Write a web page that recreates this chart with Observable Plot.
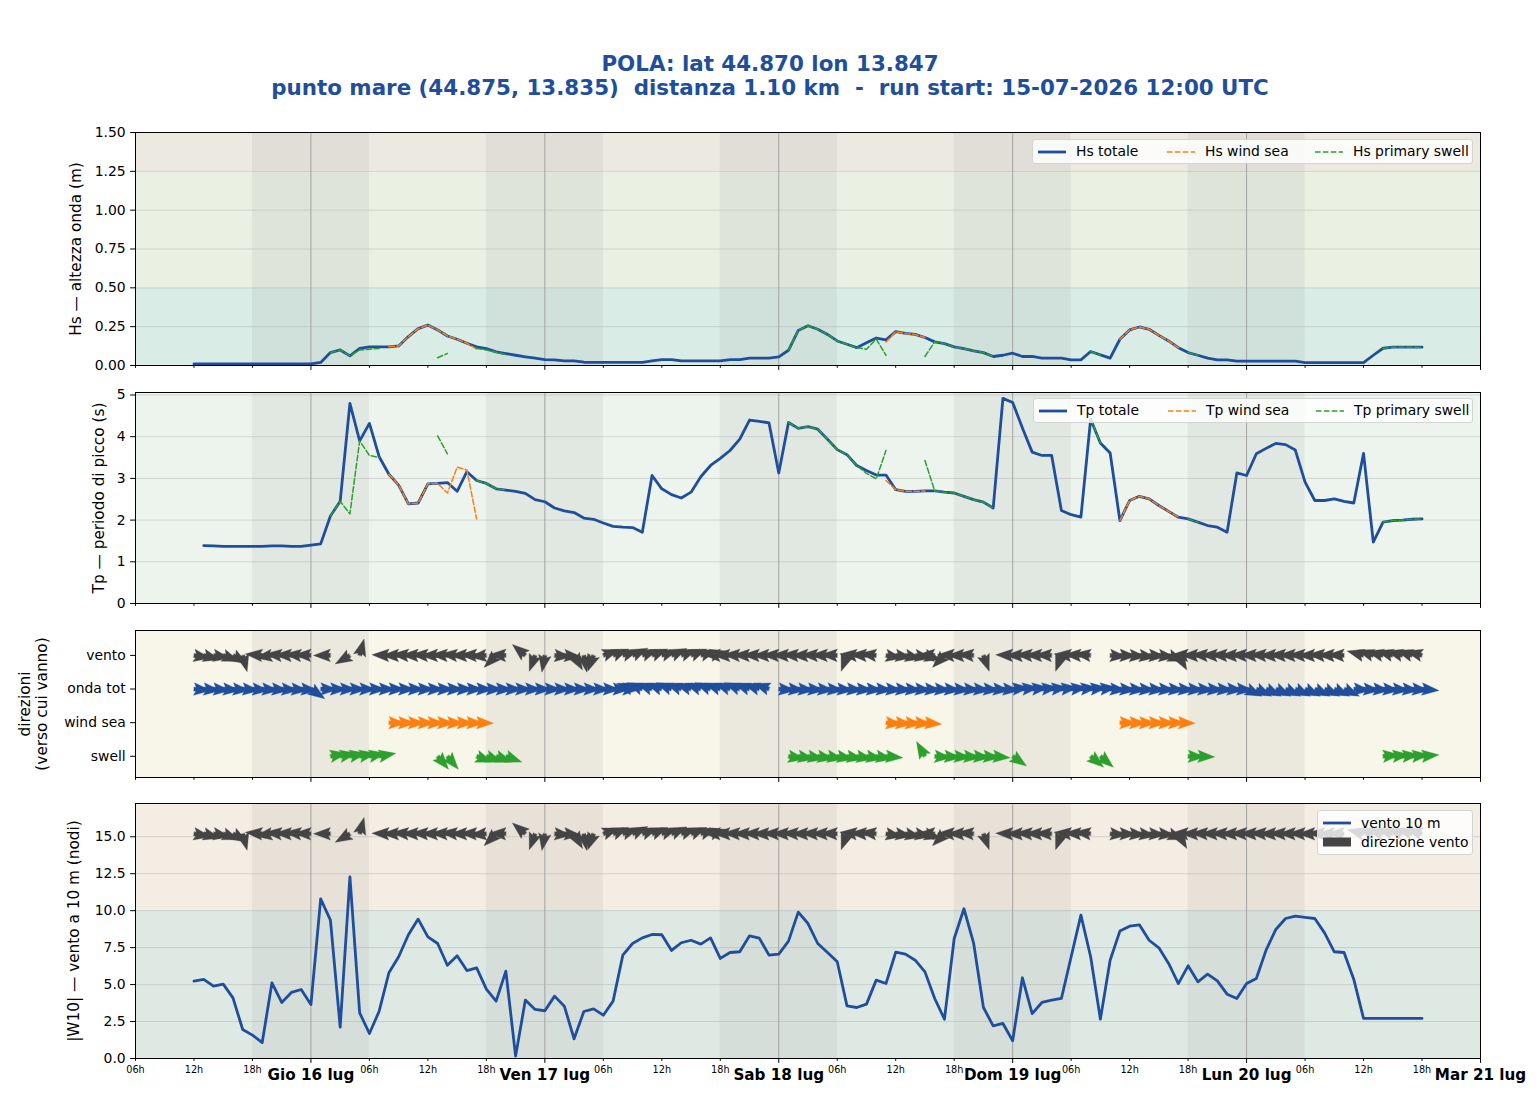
<!DOCTYPE html>
<html>
<head>
<meta charset="utf-8">
<script src="https://cdn.jsdelivr.net/npm/d3@7"></script>
<script src="https://cdn.jsdelivr.net/npm/@observablehq/plot@0.6"></script>
<style>
  html, body { margin: 0; padding: 0; background: #fff; overflow: hidden; }
  body { font-family: "DejaVu Sans", sans-serif; }
  #chart { position: relative; width: 1540px; height: 1100px; }
  .title { position: absolute; left: 0; width: 1540px; text-align: center; color: #1f4e9c;
           font-weight: bold; font-size: 21.4px; line-height: 24px; white-space: pre; }
  .legend { position: absolute; background: rgba(255,255,255,0.8); border: 1px solid #d4d4d4;
            border-radius: 3px; box-sizing: border-box; font-size: 13.9px; color: #000; }
  .legend .lab { position: absolute; white-space: pre; line-height: 16px; }
  .legend .sw { position: absolute; }
</style>
</head>
<body>
<div id="chart"></div>
<script>
const _ = null;

// Hourly series from 15-07-2026 12:00 UTC (one row = 12 hours)
const hsTot = [
  0.01, 0.01, 0.01, 0.01, 0.01, 0.01, 0.01, 0.01, 0.01, 0.01, 0.01, 0.01,
  0.01, 0.02, 0.083, 0.10, 0.062, 0.11, 0.12, 0.12, 0.12, 0.126, 0.186, 0.237,
  0.26, 0.229, 0.19, 0.169, 0.143, 0.12, 0.109, 0.088, 0.077, 0.066, 0.056, 0.047,
  0.038, 0.036, 0.03, 0.03, 0.021, 0.02, 0.02, 0.02, 0.02, 0.02, 0.02, 0.03,
  0.038, 0.038, 0.03, 0.03, 0.03, 0.03, 0.03, 0.038, 0.038, 0.047, 0.047, 0.047,
  0.056, 0.098, 0.226, 0.256, 0.233, 0.2, 0.158, 0.137, 0.115, 0.147, 0.177, 0.165,
  0.218, 0.207, 0.2, 0.18, 0.152, 0.141, 0.12, 0.109, 0.094, 0.083, 0.058, 0.066,
  0.079, 0.058, 0.058, 0.047, 0.047, 0.047, 0.036, 0.036, 0.09, 0.068, 0.047, 0.169,
  0.229, 0.248, 0.233, 0.194, 0.158, 0.115, 0.083, 0.066, 0.047, 0.036, 0.036, 0.028,
  0.028, 0.028, 0.028, 0.028, 0.028, 0.028, 0.019, 0.019, 0.019, 0.019, 0.019, 0.019,
  0.019, 0.066, 0.111, 0.118, 0.118, 0.118, 0.118
];
const hsWindSea = [
  _, _, _, _, _, _, _, _, _, _, _, _,
  _, _, _, _, _, _, _, _, 0.12, 0.126, 0.186, 0.237,
  0.26, 0.229, 0.19, 0.169, 0.143, 0.105, _, _, _, _, _, _,
  _, _, _, _, _, _, _, _, _, _, _, _,
  _, _, _, _, _, _, _, _, _, _, _, _,
  _, _, _, _, _, _, _, _, _, _, _, 0.15,
  0.218, 0.205, 0.2, 0.18, _, _, _, _, _, _, _, _,
  _, _, _, _, _, _, _, _, _, _, _, 0.169,
  0.229, 0.248, 0.233, 0.194, 0.158, 0.115, _, _, _, _, _, _,
  _, _, _, _, _, _, _, _, _, _, _, _,
  _, _, _, _, _, _, _
];
const hsSwell = [
  _, _, _, _, _, _, _, _, _, _, _, _,
  _, _, 0.083, 0.10, 0.062, 0.10, 0.105, 0.11, _, _, _, _,
  _, 0.05, 0.077, _, _, 0.11, 0.10, 0.085, 0.07, _, _, _,
  _, _, _, _, _, _, _, _, _, _, _, _,
  _, _, _, _, _, _, _, _, _, _, _, _,
  _, 0.098, 0.226, 0.256, 0.233, 0.2, 0.158, 0.137, 0.115, 0.105, 0.17, 0.066,
  _, _, _, 0.058, 0.152, 0.141, 0.12, 0.109, 0.094, 0.083, 0.058, _,
  0.079, _, _, _, _, _, _, _, 0.09, 0.068, _, _,
  _, _, _, _, _, _, 0.083, 0.066, _, _, _, _,
  _, _, _, _, _, _, _, _, _, _, _, _,
  _, _, 0.111, 0.118, 0.118, 0.118, 0.118
];
const tpTot = [
  _, 1.39, 1.38, 1.37, 1.37, 1.37, 1.37, 1.37, 1.38, 1.38, 1.37, 1.37,
  1.40, 1.43, 2.1, 2.45, 4.8, 3.9, 4.32, 3.52, 3.1, 2.84, 2.39, 2.41,
  2.87, 2.88, 2.9, 2.69, 3.16, 2.95, 2.88, 2.75, 2.72, 2.69, 2.64, 2.49,
  2.44, 2.29, 2.22, 2.18, 2.05, 2.02, 1.93, 1.85, 1.83, 1.82, 1.71, 3.07,
  2.75, 2.61, 2.53, 2.67, 3.04, 3.31, 3.48, 3.67, 3.94, 4.4, 4.37, 4.33,
  3.13, 4.34, 4.2, 4.24, 4.18, 3.94, 3.69, 3.57, 3.31, 3.19, 3.08, 3.08,
  2.73, 2.69, 2.69, 2.7, 2.7, 2.67, 2.65, 2.57, 2.49, 2.43, 2.29, 4.92,
  4.82, 4.21, 3.63, 3.55, 3.55, 2.23, 2.13, 2.07, 4.42, 3.85, 3.61, 1.99,
  2.47, 2.57, 2.51, 2.35, 2.21, 2.07, 2.03, 1.95, 1.87, 1.83, 1.71, 3.13,
  3.07, 3.59, 3.72, 3.84, 3.81, 3.68, 2.91, 2.47, 2.47, 2.51, 2.45, 2.41,
  3.6, 1.47, 1.95, 1.99, 2.0, 2.02, 2.03
];
const tpWindSea = [
  _, _, _, _, _, _, _, _, _, _, _, _,
  _, _, _, _, _, _, _, _, 3.1, 2.84, 2.39, 2.41,
  2.87, 2.88, 2.65, 3.27, 3.2, 2.03, _, _, _, _, _, _,
  _, _, _, _, _, _, _, _, _, _, _, _,
  _, _, _, _, _, _, _, _, _, _, _, _,
  _, _, _, _, _, _, _, _, _, _, _, 2.95,
  2.73, 2.69, 2.69, 2.7, _, _, _, _, _, _, _, _,
  _, _, _, _, _, _, _, _, _, _, _, 1.99,
  2.47, 2.57, 2.51, 2.35, 2.21, 2.07, _, _, _, _, _, _,
  _, _, _, _, _, _, _, _, _, _, _, _,
  _, _, _, _, _, _, _
];
const tpSwell = [
  _, _, _, _, _, _, _, _, _, _, _, _,
  _, _, 2.1, 2.45, 2.15, 3.9, 3.55, 3.5, _, _, _, _,
  _, 4.02, 3.59, _, _, 2.95, 2.88, 2.75, 2.72, _, _, _,
  _, _, _, _, _, _, _, _, _, _, _, _,
  _, _, _, _, _, _, _, _, _, _, _, _,
  _, 4.34, 4.2, 4.24, 4.18, 3.94, 3.69, 3.57, 3.31, 3.12, 2.99, 3.67,
  _, _, _, 3.43, 2.7, 2.67, 2.65, 2.57, 2.49, 2.43, 2.29, _,
  4.82, _, _, _, _, _, _, _, 4.42, 3.85, _, _,
  _, _, _, _, _, _, 2.03, 1.95, _, _, _, _,
  _, _, _, _, _, _, _, _, _, _, _, _,
  _, _, 1.95, 1.99, 2.0, 2.02, 2.03
];
// wind speed at 10 m (knots)
const wind10 = [
  5.23, 5.35, 4.89, 5.03, 4.10, 1.96, 1.58, 1.08, 5.12, 3.79, 4.47, 4.67,
  3.65, 10.8, 9.36, 2.12, 12.29, 3.09, 1.69, 3.2, 5.8, 6.88, 8.37, 9.43,
  8.23, 7.78, 6.31, 6.95, 5.95, 6.13, 4.69, 3.88, 5.91, 0.16, 3.95, 3.32,
  3.23, 4.22, 3.54, 1.33, 3.18, 3.36, 2.93, 3.88, 6.99, 7.78, 8.16, 8.39,
  8.37, 7.31, 7.83, 8.0, 7.74, 8.16, 6.77, 7.17, 7.22, 8.3, 8.14, 6.99,
  7.06, 7.94, 9.9, 9.13, 7.78, 7.17, 6.54, 3.56, 3.45, 3.68, 5.3, 5.07,
  7.19, 7.06, 6.65, 5.86, 4.06, 2.66, 8.12, 10.13, 7.78, 3.45, 2.21, 2.37,
  1.2, 5.46, 3.04, 3.79, 3.95, 4.06, 6.88, 9.7, 6.88, 2.66, 6.65, 8.62,
  8.95, 9.04, 8.0, 7.49, 6.43, 5.07, 6.27, 5.19, 5.71, 5.25, 4.35, 4.06,
  5.07, 5.41, 7.33, 8.73, 9.47, 9.63, 9.54, 9.47, 8.5, 7.22, 7.17, 5.35,
  2.71, 2.71, 2.71, 2.71, 2.71, 2.71, 2.71
];
// directions the quantities are heading to (degrees clockwise from north)
const dirWind = [
  100, 105, 100, 110, 120, 165, _, 275, 262, 275, 272, 275,
  272, _, 270, _, 240, 15, _, _, 272, 270, 274, 271,
  273, 270, 272, 275, 270, 272, 265, 225, 272, _, 310, 200,
  190, 95, 95, 150, 170, 200, 70, 68, 72, 65, 70, 68,
  72, 66, 70, 68, 72, 75, 272, 270, 273, 271, 272, 270,
  272, 271, 273, 270, 272, 271, 272, 200, 275, 273, 276, 100,
  98, 102, 100, 105, 272, 225, 272, 270, 274, 160, _, _,
  272, 270, 273, 271, 272, 200, 275, 273, 276, _, 95, 92,
  95, 97, 94, 96, 110, 150, 272, 270, 273, 271, 272, 270,
  272, 271, 273, 270, 272, 271, 272, 270, 273, 271, 272, _,
  285, 288, 284, 286, 285, 287, 285
];
const dirWave = [
  95, 95, 95, 95, 95, 95, 95, 95, 95, 95, 95, 95,
  125, 92, 92, 92, 92, 92, 92, 92, 92, 92, 92, 92,
  92, 92, 92, 92, 92, 92, 92, 92, 92, 92, 92, 92,
  92, 92, 92, 92, 92, 92, 92, 92, 92, 290, 292, 290,
  290, 292, 290, 288, 290, 292, 290, 290, 292, 290, 288, 290,
  95, 95, 95, 95, 95, 95, 95, 95, 95, 95, 95, 95,
  95, 95, 95, 95, 95, 95, 95, 95, 95, 95, 95, 95,
  85, 85, 85, 85, 85, 85, 85, 85, 85, 85, 95, 95,
  95, 95, 95, 95, 95, 95, 95, 95, 95, 95, 95, 95,
  115, 115, 115, 115, 115, 115, 115, 115, 115, 115, 115, 95,
  95, 95, 95, 95, 95, 95, 95
];
const dirWindSea = [
  _, _, _, _, _, _, _, _, _, _, _, _,
  _, _, _, _, _, _, _, _, 92, 92, 92, 92,
  92, 92, 92, 92, 92, 92, _, _, _, _, _, _,
  _, _, _, _, _, _, _, _, _, _, _, _,
  _, _, _, _, _, _, _, _, _, _, _, _,
  _, _, _, _, _, _, _, _, _, _, _, 95,
  95, 95, 95, 95, _, _, _, _, _, _, _, _,
  _, _, _, _, _, _, _, _, _, _, _, 92,
  92, 92, 92, 92, 92, 92, _, _, _, _, _, _,
  _, _, _, _, _, _, _, _, _, _, _, _,
  _, _, _, _, _, _, _
];
const dirSwell = [
  _, _, _, _, _, _, _, _, _, _, _, _,
  _, _, 80, 80, 80, 80, 80, 80, _, _, _, _,
  _, 140, 140, _, _, 110, 110, 110, 110, _, _, _,
  _, _, _, _, _, _, _, _, _, _, _, _,
  _, _, _, _, _, _, _, _, _, _, _, _,
  _, 100, 100, 100, 100, 100, 100, 100, 100, 100, 100, 95,
  _, _, _, 330, 95, 95, 95, 95, 95, 95, 95, _,
  125, _, _, _, _, _, _, _, 130, 130, _, _,
  _, _, _, _, _, _, 92, 92, _, _, _, _,
  _, _, _, _, _, _, _, _, _, _, _, _,
  _, _, 85, 85, 85, 85, 85
];

const hsBandLimits = [0, 0.5, 1.25, 1.5];
const windBandLimits = [0, 10, 17.25];
const dirRowNames = ["swell", "wind sea", "onda tot", "vento"];
const dayLabels = ["Gio 16 lug", "Ven 17 lug", "Sab 18 lug", "Dom 19 lug", "Lun 20 lug", "Mar 21 lug"];
const nights = [
  ["2026-07-15T18:00Z", "2026-07-16T06:00Z"],
  ["2026-07-16T18:00Z", "2026-07-17T06:00Z"],
  ["2026-07-17T18:00Z", "2026-07-18T06:00Z"],
  ["2026-07-18T18:00Z", "2026-07-19T06:00Z"],
  ["2026-07-19T18:00Z", "2026-07-20T06:00Z"]
].map(([a, b]) => ({from: new Date(a), to: new Date(b)}));

// ---------------------------------------------------------------
const T0 = Date.UTC(2026, 6, 15, 12);
const HOUR = 3600e3;
const xDomain = [new Date(Date.UTC(2026, 6, 15, 6)), new Date(Date.UTC(2026, 6, 21, 0))];
const num = (v) => (v == null ? NaN : v);
const rows = hsTot.map((v, i) => ({
  t: new Date(T0 + i * HOUR),
  hs: num(v), hsWs: num(hsWindSea[i]), hsSw: num(hsSwell[i]),
  tp: num(tpTot[i]), tpWs: num(tpWindSea[i]), tpSw: num(tpSwell[i]),
  w: num(wind10[i]),
  dWind: dirWind[i], dWave: dirWave[i], dWs: dirWindSea[i], dSw: dirSwell[i]
}));

const midnights = d3.utcDay.range(new Date(Date.UTC(2026, 6, 16)), new Date(Date.UTC(2026, 6, 21, 1)));
const sixHours = d3.utcHour.every(6).range(xDomain[0], new Date(+xDomain[1] + 1)).filter(d => d.getUTCHours() !== 0);
const dayLabel = (d) => dayLabels[Math.round((d - midnights[0]) / 864e5)];
const hourLabel = d3.utcFormat("%Hh");

const BLUE = "#1f4e9c", ORANGE = "#ff7f0e", GREEN = "#2ca02c", GREY = "#444444";
const DASH = "5.5,2.4";
const W = 1540, ML = 135, MR = 60;
const chart = document.getElementById("chart");

// quiver-style dart (short arrows are all head), drawn pointing up from the tail
const quiverShape = {
  draw(context, l) {
    const hw = 0.37 * l, w = 0.12 * l, notch = 0.12 * l;
    context.moveTo(-w, 0);
    context.lineTo(-w, -notch);
    context.lineTo(-hw, 0);
    context.lineTo(0, -l);
    context.lineTo(hw, 0);
    context.lineTo(w, -notch);
    context.lineTo(w, 0);
    context.closePath();
  }
};
const ARROW = 17;
const quiver = (key, yv, color) =>
  Plot.vector(rows.filter(d => d[key] != null), {
    x: "t", y: () => yv, rotate: key, length: ARROW, anchor: "start",
    shape: quiverShape, fill: color, stroke: color, strokeWidth: 0.3
  });

function background(yDom, bands) {
  return [
    ...bands.map(b => Plot.rect([b], {
      x1: () => xDomain[0], x2: () => xDomain[1], y1: d => d.lo, y2: d => d.hi, fill: b.fill
    })),
    Plot.rect(nights, {x1: "from", x2: "to", y1: () => yDom[0], y2: () => yDom[1], fill: "#808080", fillOpacity: 0.1}),
  ];
}
const gridY = (ticks) => Plot.ruleY(ticks, {stroke: "#a8a8a8", strokeOpacity: 0.45, strokeWidth: 0.9});
const dayRules = Plot.ruleX(midnights.slice(0, 5), {stroke: "#a3a3a3", strokeWidth: 1});
const xTicksPlain = [
  Plot.axisX({ticks: sixHours, tickSize: 2.8, tickFormat: () => "", label: null}),
  Plot.axisX({ticks: midnights, tickSize: 4.9, tickFormat: () => "", label: null})
];
const yTitle = (text, dx) => Plot.text([text], {
  text: d => d, frameAnchor: "left", textAnchor: "middle", lineAnchor: "middle",
  dx, rotate: -90, fontSize: 15.3, lineHeight: 1.1
});

function addPanel(top, bottom, yDom, marks, mb = 12) {
  const mt = 6;
  const svg = Plot.plot({
    width: W, height: bottom - top + mt + mb,
    marginTop: mt, marginBottom: mb, marginLeft: ML, marginRight: MR,
    x: {type: "utc", domain: xDomain},
    y: {domain: yDom},
    style: {fontFamily: "DejaVu Sans, sans-serif", fontSize: "13.9px", color: "#000", background: "transparent", overflow: "visible"},
    marks
  });
  Object.assign(svg.style, {position: "absolute", left: "0px", top: (top - mt) + "px"});
  chart.appendChild(svg);
}

// ---- title
[["POLA: lat 44.870 lon 13.847", 52], ["punto mare (44.875, 13.835)  distanza 1.10 km  -  run start: 15-07-2026 12:00 UTC", 76]]
  .forEach(([txt, top]) => {
    const d = document.createElement("div");
    d.className = "title"; d.style.top = top + "px"; d.textContent = txt;
    chart.appendChild(d);
  });

// ---- Hs panel
{
  const yDom = [0, 1.5];
  const ticks = d3.range(0, 1.51, 0.25);
  const fills = ["#d9ece5", "#eaf0e2", "#ece9e1"];
  const bands = fills.map((fill, k) => ({lo: hsBandLimits[k], hi: hsBandLimits[k + 1], fill}));
  addPanel(132, 365, yDom, [
    ...background(yDom, bands),
    gridY(ticks.slice(1, -1)),
    dayRules,
    Plot.line(rows, {x: "t", y: "hs", stroke: BLUE, strokeWidth: 2.8}),
    Plot.line(rows, {x: "t", y: "hsWs", stroke: ORANGE, strokeWidth: 1.5, strokeDasharray: DASH}),
    Plot.line(rows, {x: "t", y: "hsSw", stroke: GREEN, strokeWidth: 1.5, strokeDasharray: DASH}),
    Plot.frame({stroke: "#000", strokeWidth: 1}),
    Plot.axisY({ticks, tickFormat: d3.format(".2f"), tickSize: 4.9, tickPadding: 4.9, label: null}),
    ...xTicksPlain,
    yTitle("Hs — altezza onda (m)", -60)
  ]);
}

// ---- Tp panel
{
  const yDom = [0, 5.06];
  const ticks = [0, 1, 2, 3, 4, 5];
  addPanel(392, 603, yDom, [
    ...background(yDom, [{lo: 0, hi: 5.06, fill: "#edf4ee"}]),
    gridY(ticks.slice(1)),
    dayRules,
    Plot.line(rows, {x: "t", y: "tp", stroke: BLUE, strokeWidth: 2.8}),
    Plot.line(rows, {x: "t", y: "tpWs", stroke: ORANGE, strokeWidth: 1.5, strokeDasharray: DASH}),
    Plot.line(rows, {x: "t", y: "tpSw", stroke: GREEN, strokeWidth: 1.5, strokeDasharray: DASH}),
    Plot.frame({stroke: "#000", strokeWidth: 1}),
    Plot.axisY({ticks, tickFormat: d3.format("d"), tickSize: 4.9, tickPadding: 4.9, label: null}),
    ...xTicksPlain,
    yTitle("Tp — periodo di picco (s)", -37)
  ]);
}

// ---- directions panel
{
  const yDom = [-0.63, 3.74];
  addPanel(630, 777, yDom, [
    ...background(yDom, [{lo: -0.63, hi: 3.74, fill: "#f8f5e9"}]),
    dayRules,
    quiver("dWind", 3, GREY),
    quiver("dWave", 2, BLUE),
    quiver("dWs", 1, ORANGE),
    quiver("dSw", 0, GREEN),
    Plot.frame({stroke: "#000", strokeWidth: 1}),
    Plot.axisY({ticks: [0, 1, 2, 3], tickFormat: v => dirRowNames[v], tickSize: 4.9, tickPadding: 4.9, label: null}),
    ...xTicksPlain,
    yTitle("direzioni\n(verso cui vanno)", -102)
  ]);
}

// ---- wind panel
{
  const yDom = [0, 17.25];
  const ticks = d3.range(0, 15.1, 2.5);
  const fills = ["#dfe9e4", "#f3ede3"];
  const bands = fills.map((fill, k) => ({lo: windBandLimits[k], hi: windBandLimits[k + 1], fill}));
  addPanel(803, 1058, yDom, [
    ...background(yDom, bands),
    gridY(ticks.slice(1)),
    dayRules,
    Plot.line(rows, {x: "t", y: "w", stroke: BLUE, strokeWidth: 2.8}),
    quiver("dWind", 15.2, GREY),
    Plot.frame({stroke: "#000", strokeWidth: 1}),
    Plot.axisY({ticks, tickFormat: d3.format(".1f"), tickSize: 4.9, tickPadding: 4.9, label: null}),
    Plot.axisX({ticks: sixHours, tickSize: 2.8, tickPadding: 4.5, tickFormat: hourLabel, fontSize: 9.7, label: null}),
    Plot.axisX({ticks: midnights, tickSize: 4.9, tickPadding: 5.5, tickFormat: dayLabel, fontSize: 15.2, fontWeight: "bold", label: null}),
    yTitle("|W10| — vento a 10 m (nodi)", -62)
  ], 42);
}

// ---- legends
function addLegend(box, items) {
  const div = document.createElement("div");
  div.className = "legend";
  Object.assign(div.style, {left: box.left + "px", top: box.top + "px", width: box.width + "px", height: box.height + "px"});
  for (const it of items) {
    const sw = document.createElementNS("http://www.w3.org/2000/svg", "svg");
    sw.setAttribute("class", "sw");
    sw.setAttribute("width", 30); sw.setAttribute("height", 12);
    Object.assign(sw.style, {left: it.x + "px", top: (it.y - 6) + "px"});
    if (it.patch) {
      sw.innerHTML = `<rect x="1" y="1.5" width="28" height="9" fill="${it.color}"/>`;
    } else {
      sw.innerHTML = `<line x1="1" x2="29" y1="6" y2="6" stroke="${it.color}" stroke-width="${it.dash ? 1.5 : 2.8}" ${it.dash ? `stroke-dasharray="${DASH}"` : ""}/>`;
    }
    div.appendChild(sw);
    const lab = document.createElement("div");
    lab.className = "lab";
    lab.textContent = it.label;
    Object.assign(lab.style, {left: it.tx + "px", top: (it.y - 8.5) + "px"});
    div.appendChild(lab);
  }
  chart.appendChild(div);
}
const waveLegend = (prefix) => [
  {x: 4, tx: 43, y: 11.5, color: BLUE, label: `${prefix} totale`},
  {x: 133, tx: 172, y: 11.5, color: ORANGE, dash: true, label: `${prefix} wind sea`},
  {x: 281, tx: 320, y: 11.5, color: GREEN, dash: true, label: `${prefix} primary swell`}
];
addLegend({left: 1032, top: 139, width: 441, height: 25}, waveLegend("Hs"));
addLegend({left: 1033, top: 398, width: 440, height: 25}, waveLegend("Tp"));
addLegend({left: 1317, top: 810, width: 156, height: 45}, [
  {x: 4, tx: 43, y: 12, color: BLUE, label: "vento 10 m"},
  {x: 4, tx: 43, y: 31, color: GREY, patch: true, label: "direzione vento"}
]);
</script>
</body>
</html>
